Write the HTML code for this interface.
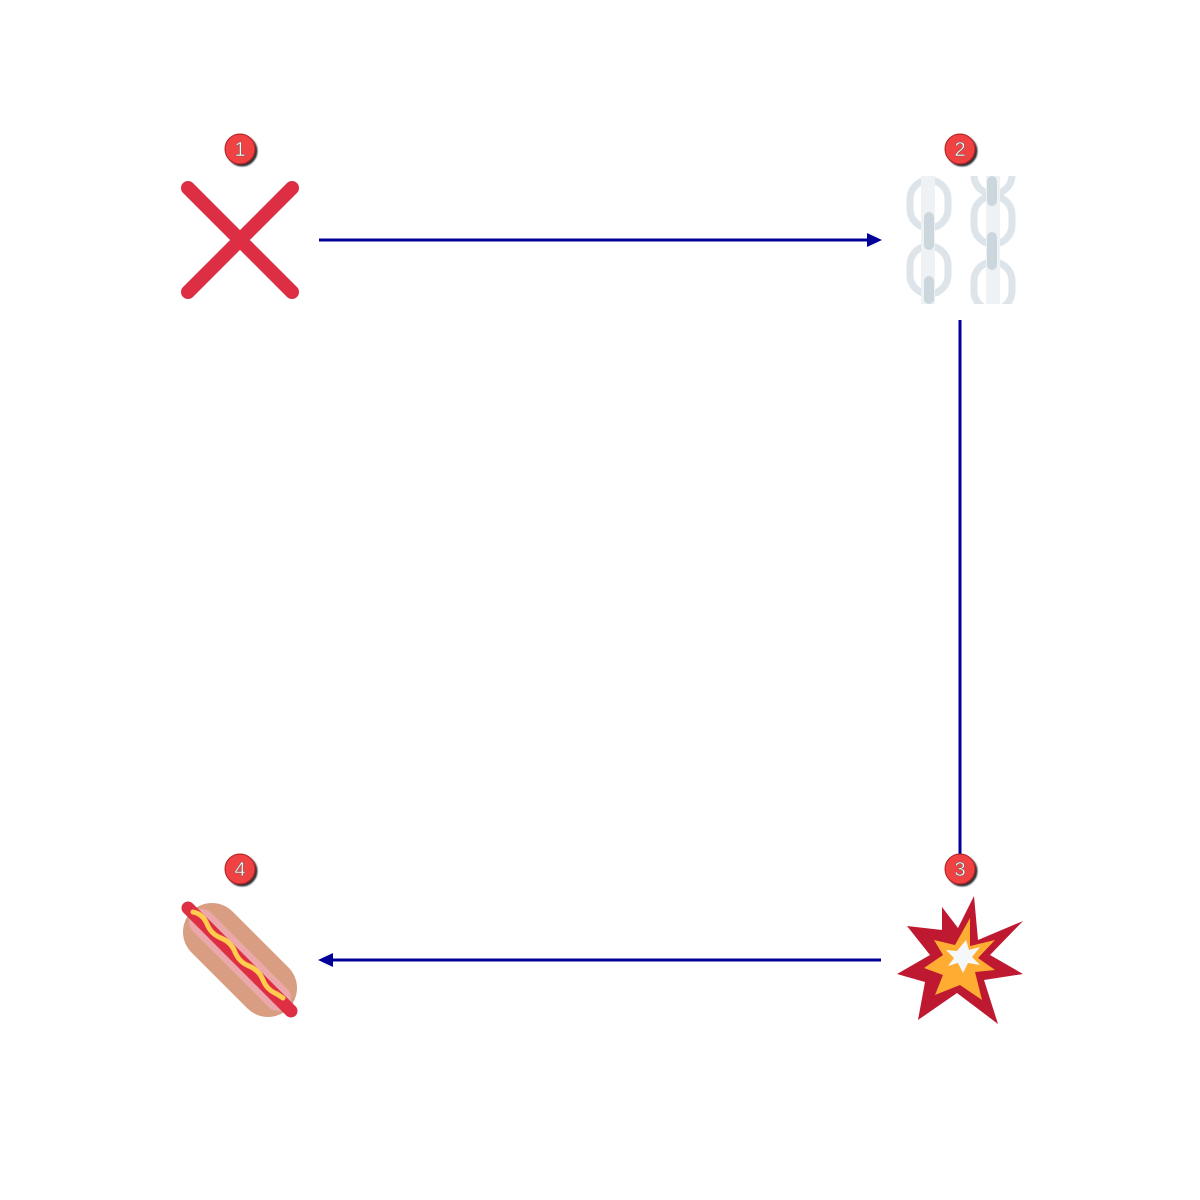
<!DOCTYPE html>
<html><head><meta charset="utf-8"><style>html,body{margin:0;padding:0;background:#fff}svg{display:block}</style></head>
<body>
<svg id="chart" width="1200" height="1200" viewBox="0 0 1200 1200" xmlns="http://www.w3.org/2000/svg">
<defs>
<filter id="sh" x="-50%" y="-50%" width="200%" height="200%"><feDropShadow dx="2" dy="2" stdDeviation="0.8" flood-color="#000" flood-opacity="0.8"/></filter>
</defs>
<g id="edges"></g>
<g>
<line x1="188" y1="188" x2="292" y2="292" stroke="#dd2e44" stroke-width="14" stroke-linecap="round"/>
<line x1="292" y1="188" x2="188" y2="292" stroke="#dd2e44" stroke-width="14" stroke-linecap="round"/>
</g>
<g>
<g fill="none" stroke="#dde4ea" stroke-width="7">
<rect x="910" y="180" width="38" height="48" rx="19"/>
<rect x="910" y="246" width="38" height="48" rx="19"/>
<rect x="974" y="196" width="38" height="48" rx="19"/>
<rect x="974" y="262" width="38" height="48" rx="19"/>
<rect x="974" y="150" width="38" height="44" rx="19"/>
</g>
<rect x="870" y="304" width="160" height="16" fill="#fff"/>
<rect x="870" y="140" width="160" height="36" fill="#fff"/>
<rect x="921" y="176" width="14" height="128" fill="#eef2f5"/>
<rect x="986" y="176" width="14" height="128" fill="#eef2f5"/>
<rect x="924" y="212" width="10" height="38" rx="5" fill="#ccd6dd"/>
<rect x="924" y="276" width="10" height="28" rx="5" fill="#ccd6dd"/>
<rect x="987" y="176" width="10" height="30" rx="5" fill="#ccd6dd"/>
<rect x="987" y="232" width="10" height="38" rx="5" fill="#ccd6dd"/>
</g>
<g>
<polygon points="974,896 978,940 1023,921 990,955 1023,974 984,980 998,1024 957,993 918,1020 925,982 897,974 930,955 907,926 942,930 942,907 958,928" fill="#be1931"/>
<polygon points="970,918 970,946 995,940 978,958 995,970 975,972 982,1000 960,985 935,995 943,975 924,968 943,955 934,940 955,945" fill="#ffac33"/>
<polygon points="966,940 969,950 980,947 972,957 980,965 968,963 963,973 958,963 948,966 954,958 946,950 957,951" fill="#f5f8fa"/>
</g>
<g>
<line x1="212" y1="932" x2="268" y2="988" stroke="#d99e82" stroke-width="58" stroke-linecap="round"/>
<line x1="202" y1="922" x2="278" y2="998" stroke="#f4abba" stroke-opacity="0.7" stroke-width="26" stroke-linecap="round"/>
<line x1="188" y1="908" x2="291" y2="1011" stroke="#dd2e44" stroke-width="13" stroke-linecap="round"/>
<path d="M193,912 q10,2 14,12 t14,14 t14,14 t14,14 t14,14 t14,14 l6,4" fill="none" stroke="#ffcc4d" stroke-width="5" stroke-linecap="round"/>
</g>
<g id="badges"></g>
</svg>
<script>
const nodeIds = [1, 2, 3, 4];
const nodeX = [240, 960, 960, 240];
const nodeY = [240, 240, 960, 960];
const edgeFrom = [0, 1, 2];
const edgeTo = [1, 2, 3];
const NS = 'http://www.w3.org/2000/svg';
const eg = document.getElementById('edges');
const bg = document.getElementById('badges');
const gap = 80, col = '#000099';
edgeFrom.forEach((f, i) => {
  const t = edgeTo[i];
  const dx = nodeX[t] - nodeX[f], dy = nodeY[t] - nodeY[f];
  const len = Math.hypot(dx, dy), ux = dx / len, uy = dy / len;
  const x1 = nodeX[f] + ux * (gap - 1), y1 = nodeY[f] + uy * (gap - 1);
  const x2 = nodeX[t] - ux * (gap - 2), y2 = nodeY[t] - uy * (gap - 2);
  const ln = document.createElementNS(NS, 'line');
  
  
  ln.setAttribute('x1', x1); ln.setAttribute('y1', y1);
  ln.setAttribute('x2', x2 - ux * 10); ln.setAttribute('y2', y2 - uy * 10);
  ln.setAttribute('stroke', col); ln.setAttribute('stroke-width', 3);
  eg.appendChild(ln);
  const px = -uy, py = ux;
  const bx = x2 - ux * 15, by = y2 - uy * 15;
  const ah = document.createElementNS(NS, 'polygon');
  
  
  ah.setAttribute('points', `${x2},${y2} ${bx + px * 7},${by + py * 7} ${bx - px * 7},${by - py * 7}`);
  ah.setAttribute('fill', col);
  eg.appendChild(ah);
});
nodeIds.forEach((id, i) => {
  const g = document.createElementNS(NS, 'g');
  
  
  const c = document.createElementNS(NS, 'circle');
  c.setAttribute('cx', nodeX[i]); c.setAttribute('cy', nodeY[i] - 91);
  c.setAttribute('r', 15); c.setAttribute('fill', '#f04242');
  c.setAttribute('stroke', '#b01e22'); c.setAttribute('stroke-width', 1);
  c.setAttribute('filter', 'url(#sh)');
  g.appendChild(c);
  const t = document.createElementNS(NS, 'text');
  t.setAttribute('x', nodeX[i]); t.setAttribute('y', nodeY[i] - 84);
  t.setAttribute('text-anchor', 'middle');
  t.setAttribute('font-family', 'Liberation Sans, Arial, sans-serif');
  t.setAttribute('font-size', 20);
  t.setAttribute('fill', '#fff');
  t.setAttribute('stroke', '#555'); t.setAttribute('stroke-width', 0.4);
  t.textContent = id;
  g.appendChild(t);
  bg.appendChild(g);
});
</script>
</body></html>
